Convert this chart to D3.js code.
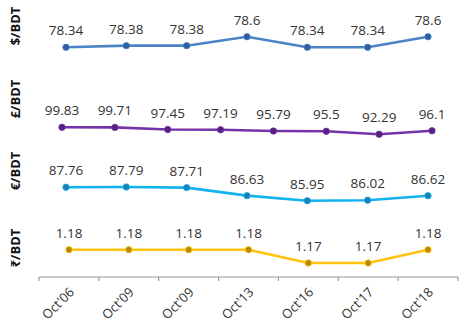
<!DOCTYPE html>
<html>
<head>
<meta charset="utf-8">
<script src="https://cdn.jsdelivr.net/npm/d3@7"></script>
<style>
  html, body { margin: 0; padding: 0; background: #fff; }
  svg { display: block; }
  text { font-family: "Open Sans", "Noto Sans", sans-serif; }
</style>
</head>
<body>
<svg id="chart" width="475" height="335"></svg>
<script>
// ---- data ----
const categories = ["Oct'06", "Oct'09", "Oct'09", "Oct'13", "Oct'16", "Oct'17", "Oct'18"];
const panelLabels = ["$/BDT", "£/BDT", "€/BDT", "₹/BDT"];
const usdValues = [78.34, 78.38, 78.38, 78.6, 78.34, 78.34, 78.6];
const gbpValues = [99.83, 99.71, 97.45, 97.19, 95.79, 95.5, 92.29, 96.1];
const eurValues = [87.76, 87.79, 87.71, 86.63, 85.95, 86.02, 86.62];
const inrValues = [1.18, 1.18, 1.18, 1.18, 1.17, 1.17, 1.18];

// ---- styling / layout (not data) ----
const panels = [
  { label: panelLabels[0], values: usdValues, line: "#4a84c6", dot: "#2d5f9e", xr: [66, 428], yr: [47.3, 36.7], labelY: 26 },
  { label: panelLabels[1], values: gbpValues, line: "#7434a8", dot: "#55207f", xr: [62, 432], yr: [134.3, 127.3], labelY: 99 },
  { label: panelLabels[2], values: eurValues, line: "#12b2ee", dot: "#1a7fb3", xr: [66, 428], yr: [200.7, 187], labelY: 171 },
  { label: panelLabels[3], values: inrValues, line: "#ffc20e", dot: "#b58a00", xr: [69, 428], yr: [263, 249.7], labelY: 248 }
];

const svg = d3.select("#chart");

// x band scale for the category axis
const x = d3.scaleBand().domain(d3.range(categories.length)).range([39, 458]).padding(0);
const axisY = 277;

panels.forEach(p => {
  const xs = d3.scalePoint().domain(d3.range(p.values.length)).range(p.xr);
  const ys = d3.scaleLinear().domain(d3.extent(p.values)).range(p.yr);
  const g = svg.append("g");

  g.append("path")
    .datum(p.values)
    .attr("fill", "none")
    .attr("stroke", p.line)
    .attr("stroke-width", 2.6)
    .attr("stroke-linejoin", "round")
    .attr("d", d3.line().x((d, i) => xs(i)).y(d => ys(d)));

  g.selectAll("circle")
    .data(p.values)
    .join("circle")
    .attr("cx", (d, i) => xs(i))
    .attr("cy", d => ys(d))
    .attr("r", 3.2)
    .attr("fill", p.dot)
    .attr("stroke", p.line)
    .attr("stroke-width", 0.8);

  g.selectAll("text.val")
    .data(p.values)
    .join("text")
    .attr("class", "val")
    .attr("x", (d, i) => xs(i))
    .attr("y", d => ys(d) - 12)
    .attr("text-anchor", "middle")
    .attr("font-size", "13.5px")
    .attr("fill", "#333")
    .text(d => d);

  svg.append("text")
    .attr("transform", `translate(20,${p.labelY}) rotate(-90)`)
    .attr("text-anchor", "middle")
    .attr("font-size", "13px")
    .attr("font-weight", "bold")
    .attr("fill", "#111")
    .text(p.label);
});

// x axis
const axisG = svg.append("g").attr("transform", `translate(0,${axisY})`);
axisG.append("line")
  .attr("x1", x.range()[0]).attr("x2", x.range()[1])
  .attr("stroke", "#9a9a9a").attr("stroke-width", 1.2);
const boundaries = d3.range(categories.length + 1).map(i => x.range()[0] + i * x.step());
axisG.selectAll("line.tick")
  .data(boundaries)
  .join("line")
  .attr("class", "tick")
  .attr("x1", d => d).attr("x2", d => d)
  .attr("y1", 0).attr("y2", 4)
  .attr("stroke", "#9a9a9a").attr("stroke-width", 1.2);
axisG.selectAll("text.cat")
  .data(categories)
  .join("text")
  .attr("class", "cat")
  .attr("transform", (d, i) => `translate(${x(i) + x.bandwidth() / 2 + 6},${16}) rotate(-45)`)
  .attr("text-anchor", "end")
  .attr("font-size", "13px")
  .attr("fill", "#333")
  .text(d => d);
</script>
</body>
</html>
